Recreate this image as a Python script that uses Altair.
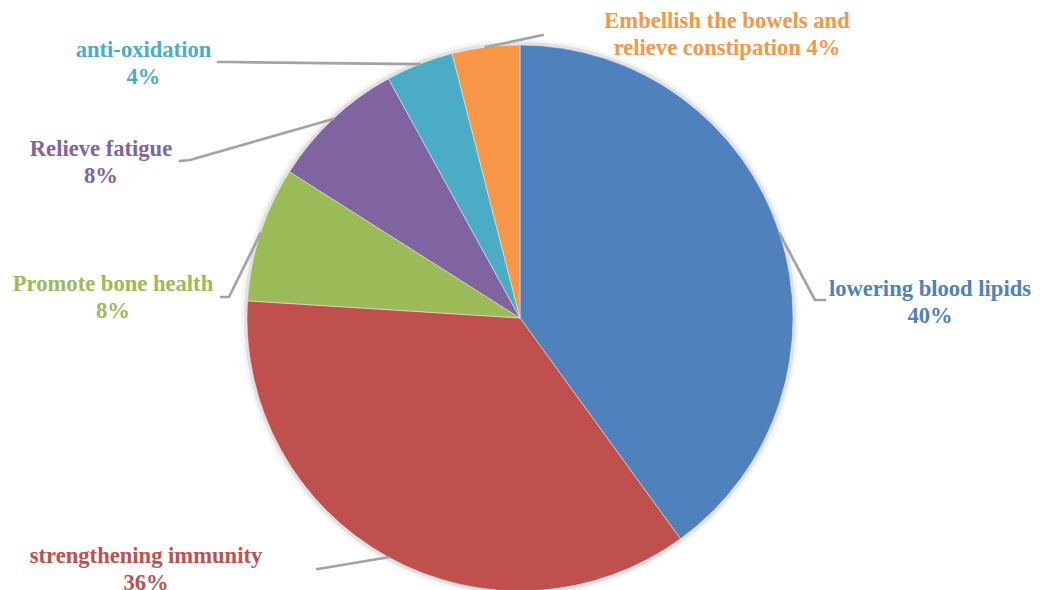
import math
import altair as alt
import pandas as pd

# ---------------- data ----------------
categories = [
    "lowering blood lipids",
    "strengthening immunity",
    "Promote bone health",
    "Relieve fatigue",
    "anti-oxidation",
    "Embellish the bowels and relieve constipation",
]
values = [40, 36, 8, 8, 4, 4]
label_line1 = [
    "lowering blood lipids",
    "strengthening immunity",
    "Promote bone health",
    "Relieve fatigue",
    "anti-oxidation",
    "Embellish the bowels and",
]
label_line2_prefix = ["", "", "", "", "", "relieve constipation "]
colors = ["#4F81BD", "#C0504D", "#9BBB59", "#8064A2", "#4BACC6", "#F79646"]

# ---------------- layout (page pixels) ----------------
W, H = 1024, 620
MARGIN = 8
CX, CY = MARGIN + W / 2, MARGIN + H / 2  # pie centre on the page
R = 273
FONT_SIZE = 22.6
LINE_GAP = 26.5
# label block: centre x, first-line baseline
label_pos = [
    (930, 296),
    (146, 563),
    (113, 291),
    (101, 156),
    (143.5, 57),
    (727, 28),
]
# leader line: elbow and end points
leader_pts = [
    [(815, 300), (825, 300)],
    [(318, 569), (317, 569)],
    [(229, 297), (221, 297)],
    [(190, 160), (180, 161)],
    [(228, 62), (218, 62)],
    [(543, 35), (543, 35)],
]

total = sum(values)
pie_df = pd.DataFrame({"cat": categories, "value": values, "idx": list(range(len(values)))})

# leader lines start at the edge point at each slice's mid-angle
line_rows = []
cum = 0
for i, (c, v) in enumerate(zip(categories, values)):
    a = (cum + v / 2) / total * 2 * math.pi
    cum += v
    ex, ey = CX + R * math.sin(a), CY - R * math.cos(a)
    pts = [(ex, ey)] + leader_pts[i]
    for s, (px, py) in enumerate(pts):
        line_rows.append({"cat": c, "seq": s, "px": px, "py": py})
line_df = pd.DataFrame(line_rows)

text_rows = []
for i, c in enumerate(categories):
    pct = f"{round(values[i] / total * 100)}%"
    x0, y0 = label_pos[i]
    text_rows.append({"cat": c, "txt": label_line1[i], "px": x0, "py": y0})
    text_rows.append({"cat": c, "txt": label_line2_prefix[i] + pct, "px": x0, "py": y0 + LINE_GAP})
text_df = pd.DataFrame(text_rows)

color_scale = alt.Scale(domain=categories, range=colors)
xs = alt.X("px:Q", scale=alt.Scale(domain=[MARGIN, MARGIN + W], range=[0, W], nice=False, zero=False), axis=None)
ys = alt.Y("py:Q", scale=alt.Scale(domain=[MARGIN, MARGIN + H], range=[0, H], nice=False, zero=False), axis=None)

shadow_df = pd.DataFrame({"value": [total]})
shadow1 = alt.Chart(shadow_df).mark_arc(outerRadius=R + 6, color="#000000", opacity=0.04).encode(
    theta=alt.Theta("value:Q")
)
shadow2 = alt.Chart(shadow_df).mark_arc(outerRadius=R + 3, color="#000000", opacity=0.08).encode(
    theta=alt.Theta("value:Q")
)

pie = alt.Chart(pie_df).mark_arc(outerRadius=R, stroke="#f0f0f0", strokeWidth=0.5).encode(
    theta=alt.Theta("value:Q", stack=True),
    color=alt.Color("cat:N", scale=color_scale, legend=None),
    order=alt.Order("idx:Q"),
)

leaders = alt.Chart(line_df).mark_line(
    color="#A3A3A3", strokeWidth=2.7, strokeCap="round", strokeJoin="round"
).encode(x=xs, y=ys, detail="cat:N", order="seq:Q")

labels = alt.Chart(text_df).mark_text(
    font="Liberation Serif", fontWeight="bold", fontSize=FONT_SIZE, align="center", baseline="alphabetic"
).encode(
    x=xs, y=ys, text="txt:N",
    color=alt.Color("cat:N", scale=color_scale, legend=None),
)

chart = (
    alt.layer(shadow1, shadow2, pie, leaders, labels)
    .properties(width=W, height=H, padding=0, autosize="none", background="white")
    .configure_view(stroke=None)
)

chart.save("out.html", embed_options={"renderer": "svg", "actions": False})
